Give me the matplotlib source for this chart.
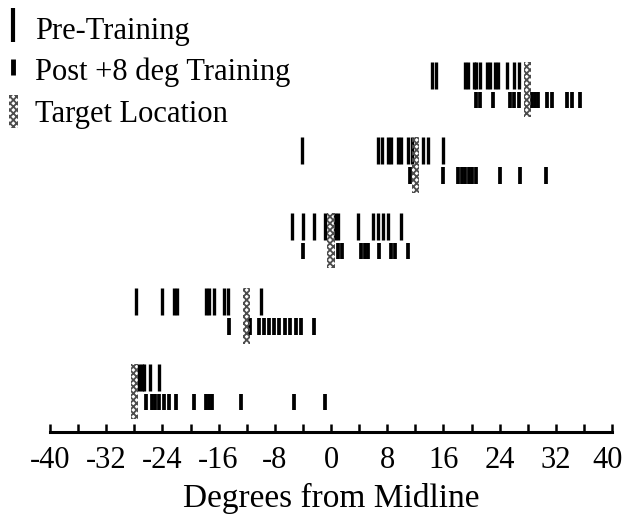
import numpy as np
import matplotlib
matplotlib.use("Agg")
import matplotlib.pyplot as plt
from matplotlib.lines import Line2D
from matplotlib.patches import Patch
from matplotlib.transforms import ScaledTranslation

plt.rcParams['font.family'] = ['Liberation Serif', 'DejaVu Serif']
plt.rcParams['hatch.linewidth'] = 1.3

# target locations (deg), top row first
targets = [28, 12, 0, -12, -28]

pre = [
    [14.4, 15.0, 19.1, 19.5, 20.3, 20.7, 21.2, 22.2, 22.6, 23.4, 23.8, 25.0, 26.0, 26.7],
    [-4.1, 6.7, 7.2, 8.1, 8.6, 9.5, 10.0, 11.0, 11.5, 13.1, 13.8, 15.9],
    [-5.5, -4.0, -2.4, -0.9, 0.5, 1.0, 3.8, 6.0, 6.7, 7.4, 8.1, 10.0],
    [-27.7, -24.0, -22.4, -21.9, -17.8, -17.4, -16.6, -15.2, -14.7, -10.0],
    [-27.4, -26.9, -26.6, -25.7, -24.5],
]
post = [
    [20.7, 21.2, 23.0, 25.5, 26.1, 26.8, 28.6, 29.1, 29.5, 30.7, 31.5, 33.6, 34.3, 35.5],
    [11.2, 16.0, 18.1, 18.6, 19.1, 19.6, 20.1, 20.7, 24.1, 26.9, 30.6],
    [-4.0, 1.0, 1.5, 4.3, 4.8, 5.3, 6.9, 8.6, 9.1, 11.0],
    [-14.5, -11.6, -10.2, -9.5, -8.8, -8.1, -7.4, -6.6, -5.9, -5.0, -4.3, -2.4],
    [-26.4, -25.5, -25.0, -24.5, -23.8, -23.1, -22.1, -19.5, -17.8, -17.4, -16.9, -12.8, -5.2, -0.9],
]

tick_pos = np.arange(-40, 41, 8)
tick_lab = ['-40', '-32', '-24', '-16', '-8', '0', '8', '16', '24', '32', '40']

fig = plt.figure(figsize=(6.26, 5.21), dpi=100)
ax = fig.add_axes([50 / 626, 89 / 521, 562 / 626, 432 / 521])

n = len(targets)
for i in range(n):
    k = n - 1 - i
    ax.bar(targets[i], 0.74, bottom=k - 0.39, width=1.0, fill=False,
           hatch='xxxxx', edgecolor='0.3', linewidth=0, zorder=3)
    ax.vlines(pre[i], k + 0.17 - 0.18, k + 0.17 + 0.18, colors='k', lw=2.4, zorder=2)
    ax.vlines(post[i], k - 0.16 - 0.11, k - 0.16 + 0.11, colors='k', lw=2.7, zorder=2)

ax.set_xlim(-40, 40)
ax.set_ylim(-0.556, 5.166)
for s in ['left', 'right', 'top']:
    ax.spines[s].set_visible(False)
ax.spines['bottom'].set_linewidth(2.2)
ax.set_yticks([])
ax.set_xticks(tick_pos)
ax.set_xticklabels(tick_lab, fontsize=22)
ax.set_xticks(np.arange(-40, 41, 4), minor=True)
ax.tick_params(axis='x', which='both', direction='in', length=6, width=1.8, pad=10)
ax.set_xlabel('Degrees from Midline', fontsize=24, labelpad=6)

# keep the last label inside the canvas
last = ax.get_xticklabels()[-1]
last.set_transform(last.get_transform() + ScaledTranslation(-4 / 100, 0, fig.dpi_scale_trans))

handles = [
    Line2D([], [], marker='|', ls='none', ms=24, mew=3, color='k'),
    Line2D([], [], marker='|', ls='none', ms=11, mew=3.5, color='k'),
    Patch(fill=False, hatch='xxxxx', edgecolor='0.3', linewidth=0),
]
labels = ['Pre-Training', 'Post +8 deg Training', 'Target Location']
fig.legend(handles, labels, loc='upper left', bbox_to_anchor=(-0.03, 1.03),
           frameon=False, fontsize=22, handlelength=0.3, handleheight=1.3,
           handletextpad=0.55, labelspacing=0.25)

fig.savefig('out.png', dpi=100)
